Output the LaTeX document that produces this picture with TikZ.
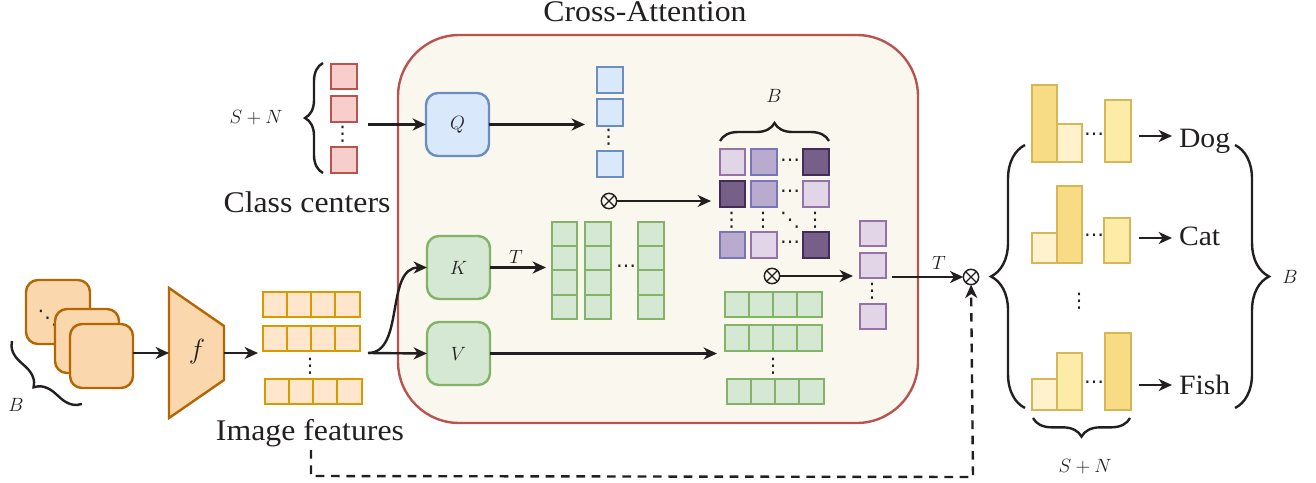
\documentclass[tikz,border=0pt]{standalone}
\usepackage{fontspec}
\setmainfont[FakeStretch=1.06]{Liberation Serif}
\newfontfamily\dotfont{DejaVu Sans}
\usetikzlibrary{arrows.meta,decorations.pathreplacing}
\definecolor{redF}{HTML}{F8CECC}\definecolor{redD}{HTML}{B85450}
\definecolor{bluF}{HTML}{DAE8FC}\definecolor{bluD}{HTML}{6C8EBF}
\definecolor{grnF}{HTML}{D5E8D4}\definecolor{grnD}{HTML}{82B366}
\definecolor{purF}{HTML}{E1D5E7}\definecolor{purD}{HTML}{9673A6}
\definecolor{midF}{HTML}{B9ABCD}\definecolor{midD}{HTML}{7A75BB}
\definecolor{drkF}{HTML}{76608A}\definecolor{drkD}{HTML}{432D57}
\definecolor{ornF}{HTML}{FAD7AC}\definecolor{ornD}{HTML}{B46504}
\definecolor{imgF}{HTML}{FFE6CC}\definecolor{imgD}{HTML}{D79B00}
\definecolor{yelD}{HTML}{D6B656}
\definecolor{barA}{HTML}{FFF2CC}\definecolor{barB}{HTML}{FDEBA8}\definecolor{barC}{HTML}{F8DC85}
\definecolor{panelF}{HTML}{FAF7EF}
\definecolor{ink}{HTML}{231F20}
\tikzset{
  px/.style={x=0.75pt,y=-0.75pt},
  basecell/.style={draw,rectangle,inner sep=0pt,outer sep=0pt,line width=1.8pt},
  redcell/.style={basecell,fill=redF,draw=redD},
  blucell/.style={basecell,fill=bluF,draw=bluD},
  grncell/.style={basecell,fill=grnF,draw=grnD},
  imgcell/.style={basecell,fill=imgF,draw=imgD},
  lightcell/.style={basecell,fill=purF,draw=purD},
  midcell/.style={basecell,fill=midF,draw=midD},
  darkcell/.style={basecell,fill=drkF,draw=drkD},
  baraa/.style={basecell,fill=barA,draw=yelD},
  barbb/.style={basecell,fill=barB,draw=yelD},
  barcc/.style={basecell,fill=barC,draw=yelD},
  card/.style={basecell,fill=ornF,draw=ornD,rounded corners=9pt},
  blockQ/.style={basecell,fill=bluF,draw=bluD,rounded corners=9pt},
  blockG/.style={basecell,fill=grnF,draw=grnD,rounded corners=9pt},
  panel/.style={basecell,fill=panelF,draw=redD,rounded corners=46pt},
  conn/.style={draw=ink,line width=1.8pt,-{Stealth[length=10pt,width=9pt,inset=3pt]}},
  dashconn/.style={conn,dash pattern=on 6.5pt off 5pt},
  otnode/.style={circle,draw=ink,line width=1.1pt,minimum size=11.5pt,inner sep=0pt,outer sep=0pt,
    path picture={\draw[ink,line width=0.9pt] (path picture bounding box.north west)--(path picture bounding box.south east)
      (path picture bounding box.north east)--(path picture bounding box.south west);}},
  lab/.style={inner sep=0pt,outer sep=0pt,text=ink,font=\fontsize{22.5}{24}\selectfont},
  clslab/.style={lab,font=\fontsize{21}{24}\selectfont},
  mlab/.style={inner sep=0pt,outer sep=0pt,text=ink,font=\fontsize{15.5}{17}\selectfont},
  dotn/.style={inner sep=0pt,outer sep=0pt,text=ink,font=\dotfont\fontsize{15}{16}\selectfont},
  brc/.style={draw=ink,line width=1.8pt,decorate},
}
\newcommand{\cell}[6]{\node[#2,minimum width={(#5-#3)*0.75pt},minimum height={(#6-#4)*0.75pt}] (#1) at ({(#3+#5)/2},{(#4+#6)/2}) {};}
\begin{document}
\begin{tikzpicture}[px]
\useasboundingbox (0,0) rectangle (1316,482);
% panel
\cell{panelbox}{panel}{398}{35}{918}{423}
\node[lab] (crosslab) at (645,12) {Cross-Attention};
% input cards
\cell{cardA}{card}{26}{280}{90}{344}
\node[dotn] (carddots) at (47.5,318.5) {⋱};
\cell{cardB}{card}{55}{309}{119}{373}
\cell{cardC}{card}{70}{324}{133}{388}
\draw[brc,decoration={brace,amplitude=15pt,mirror}] (12,341) -- (82,404);
\node[mlab] (bL) at (16,405) {$B$};
% encoder
\fill[ornF,draw=ornD,line width=1.8pt,line join=miter] (169,288) -- (224,326) -- (224,380) -- (169,418) -- cycle;
\coordinate (fin) at (169,353);
\coordinate (fout) at (224,353);
\node[mlab,font=\fontsize{21}{22}\selectfont] (flab) at (197,352) {$f$};
% image features
\foreach \i/\a/\b in {1/263/287,2/287/311,3/311/335,4/335/360}{\cell{ifa\i}{imgcell}{\a}{292}{\b}{317}}
\foreach \i/\a/\b in {1/263/287,2/287/311,3/311/335,4/335/360}{\cell{ifb\i}{imgcell}{\a}{326}{\b}{351}}
\foreach \i/\a/\b in {1/265/289,2/289/313,3/313/337,4/337/362}{\cell{ifc\i}{imgcell}{\a}{379}{\b}{404}}
\node[dotn] (ifdots) at (310,366) {⋮};
\node[lab] (imglab) at (310,433) {Image features};
% class centers
\cell{rc1}{redcell}{331}{64}{357}{89}
\cell{rc2}{redcell}{331}{96}{357}{122}
\cell{rc3}{redcell}{331}{147}{357}{173}
\node[dotn] (rcdots) at (342.5,134) {⋮};
\draw[brc,decoration={brace,amplitude=13.5pt}] (323,173) -- (323,63);
\node[mlab] (snL) at (256,118) {$S+N$};
\node[lab] (cclab) at (307,202) {Class centers};
% Q K V
\cell{qn}{blockQ}{426}{93}{489}{156}
\cell{kn}{blockG}{427}{236}{490}{299}
\cell{vn}{blockG}{427}{322}{490}{385}
\node[mlab] at (qn) (qlab) {$Q$};
\node[mlab] at (kn) (klab) {$K$};
\node[mlab] at (vn) (vlab) {$V$};
% blue vectors
\cell{bc1}{blucell}{597}{67}{623}{93}
\cell{bc2}{blucell}{597}{99}{623}{126}
\cell{bc3}{blucell}{597}{151}{623}{177}
\node[dotn] (bcdots) at (608.5,137.5) {⋮};
% green K matrix
\foreach \c/\a/\b in {a/552/577,b/585/611,c/638/664}{
  \cell{km\c1}{grncell}{\a}{222}{\b}{246}
  \cell{km\c2}{grncell}{\a}{246}{\b}{270}
  \cell{km\c3}{grncell}{\a}{270}{\b}{295}
  \cell{km\c4}{grncell}{\a}{295}{\b}{319}
}
\node[dotn] (kmdots) at (626,269) {⋯};
% B brace and matrix
\node[mlab] (bT) at (774,96) {$B$};
\draw[brc,decoration={brace,amplitude=13.5pt}] (720,141) -- (829,141);
\cell{m11}{lightcell}{720}{149}{745}{175}
\cell{m12}{midcell}{751}{149}{777}{175}
\cell{m13}{darkcell}{803}{149}{829}{175}
\cell{m21}{darkcell}{720}{181}{745}{207}
\cell{m22}{midcell}{751}{181}{777}{207}
\cell{m23}{lightcell}{803}{181}{829}{207}
\cell{m31}{midcell}{720}{232}{745}{258}
\cell{m32}{lightcell}{751}{232}{777}{258}
\cell{m33}{darkcell}{803}{232}{829}{258}
\node[dotn] (md1) at (790,163) {⋯};
\node[dotn] (md2) at (790,194) {⋯};
\node[dotn] (md3) at (790,245) {⋯};
\node[dotn] (md4) at (731.5,220) {⋮};
\node[dotn] (md5) at (763,220) {⋮};
\node[dotn] (md6) at (790,220) {⋱};
\node[dotn] (md7) at (815,220) {⋮};
% otimes
\node[otnode] (ot1) at (609,201) {};
\node[otnode] (ot2) at (772,276) {};
\node[otnode] (ot3) at (971,277) {};
% green V rows
\foreach \i/\a/\b in {1/725/749,2/749/773,3/773/797,4/797/822}{\cell{vma\i}{grncell}{\a}{292}{\b}{317}}
\foreach \i/\a/\b in {1/725/749,2/749/773,3/773/797,4/797/822}{\cell{vmb\i}{grncell}{\a}{325}{\b}{351}}
\foreach \i/\a/\b in {1/727/751,2/751/775,3/775/799,4/799/824}{\cell{vmc\i}{grncell}{\a}{379}{\b}{404}}
\node[dotn] (vmdots) at (773,366) {⋮};
% purple output
\cell{pc1}{lightcell}{860}{221}{886}{246}
\cell{pc2}{lightcell}{860}{253}{886}{278}
\cell{pc3}{lightcell}{860}{304}{886}{329}
\node[dotn] (pcdots) at (872,291) {⋮};
% right bars
\cell{r1a}{barcc}{1032}{85}{1057}{162}
\cell{r1b}{baraa}{1057}{124}{1082}{162}
\cell{r1c}{barbb}{1105}{100}{1131}{162}
\cell{r2a}{baraa}{1032}{233}{1057}{263}
\cell{r2b}{barcc}{1057}{186}{1082}{263}
\cell{r2c}{barbb}{1104}{218}{1130}{263}
\cell{r3a}{baraa}{1032}{379}{1057}{410}
\cell{r3b}{barbb}{1057}{353}{1082}{410}
\cell{r3c}{barcc}{1105}{333}{1131}{410}
\node[dotn] (rd1) at (1094,137) {⋯};
\node[dotn] (rd2) at (1094,238) {⋯};
\node[dotn] (rd3) at (1094,385) {⋯};
\node[dotn] (rd4) at (1079,301) {⋮};
\node[clslab,anchor=base west] (dog) at (1179,147) {Dog};
\node[clslab,anchor=base west] (cat) at (1179,245) {Cat};
\node[clslab,anchor=base west] (fish) at (1179,394) {Fish};
% big braces
\draw[brc,decoration={brace,amplitude=25.5pt}] (1025,408) -- (1025,145);
\draw[brc,decoration={brace,amplitude=25.5pt}] (1235,145) -- (1235,408);
\node[mlab] (bR) at (1290,277) {$B$};
\draw[brc,decoration={brace,amplitude=14pt,mirror}] (1033,418) -- (1130,418);
\node[mlab] (snB) at (1085,467) {$S+N$};
% connectors
\coordinate (qin) at (368,124.5);
\coordinate (blueto) at (585,124.5);
\coordinate (ot1to) at (711,201);
\coordinate (ot2to) at (853,276);
\coordinate (kto) at (546,267.5);
\coordinate (vto) at (717,353.5);
\coordinate (fsrc) at (368,353);
\coordinate (imgarrow) at (258,353);
\coordinate (cardout) at (133,353);
\coordinate (pcout) at (892,277);
\coordinate (dsA) at (311,450);
\coordinate (dsB) at (311,476);
\coordinate (dsC) at (973,477);
\coordinate (d1f) at (1139,136);\coordinate (d1t) at (1172,136);
\coordinate (d2f) at (1139,238);\coordinate (d2t) at (1172,238);
\coordinate (d3f) at (1139,385);\coordinate (d3t) at (1172,385);
\draw[conn] (cardout) -- (fin);
\draw[conn] (fout) -- (imgarrow);
\draw[conn] (qin) -- (qn.west);
\draw[conn] (qn.east) -- (blueto);
\draw[conn] (fsrc) .. controls (405,353) and (385,267.5) .. (kn.west);
\draw[conn] (fsrc) -- (vn.west);
\draw[conn] (kn.east) -- (kto);
\draw[conn] (vn.east |- vto) -- (vto);
\draw[conn] (ot1) -- (ot1to);
\draw[conn] (ot2) -- (ot2to);
\draw[conn] (pcout) -- (ot3);
\draw[dashconn] (dsA) -- (dsB) -- (dsC) -- (ot3);
\draw[conn] (d1f) -- (d1t);
\draw[conn] (d2f) -- (d2t);
\draw[conn] (d3f) -- (d3t);
\node[mlab] (tK) at (516,257) {$T$};
\node[mlab] (tO) at (939,263) {$T$};
\end{tikzpicture}
\end{document}
